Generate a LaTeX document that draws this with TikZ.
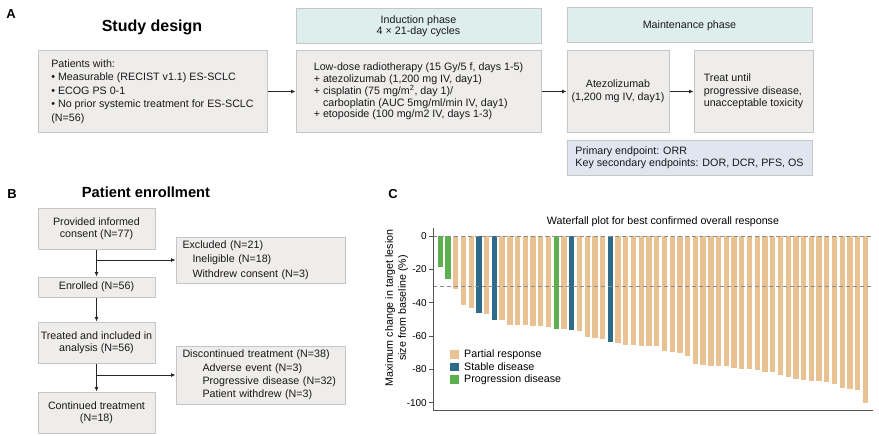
\documentclass[tikz,border=0pt]{standalone}
\usepackage{fontspec}
\setmainfont{Liberation Sans}
\usepackage{xcolor}
\usepackage{tikz}
\usetikzlibrary{arrows.meta, positioning, calc}

\definecolor{boxfill}{HTML}{EEEDEB}
\definecolor{boxline}{HTML}{C6C6C6}
\definecolor{phasefill}{HTML}{DDEEEC}
\definecolor{endfill}{HTML}{DFE6F0}
\definecolor{prcol}{HTML}{E8C293}
\definecolor{sdcol}{HTML}{2E6A8A}
\definecolor{pdcol}{HTML}{5DB04E}
\definecolor{axiscol}{HTML}{555555}

\newcommand{\txtsz}[1]{\fontsize{10.7}{#1}\selectfont}

\tikzset{
    box/.style={rectangle, draw=boxline, fill=boxfill, line width=1pt, align=left, text=black!90, font=\txtsz{13}},
    arrow/.style={line width=0.8pt, draw=black!85, -{Latex[length=4.5pt, width=4pt]}}
}

\begin{document}
\begin{tikzpicture}[x=1pt, y=-1pt,
    phasebox/.style={box, fill=phasefill, align=center, minimum width=245pt, minimum height=35pt},
    flowbox/.style={box, align=center, minimum width=117pt, inner xsep=2pt, font=\txtsz{12.5}},
    sidebox/.style={box, minimum width=169pt, text width=156pt, inner xsep=6.5pt},
    panlabel/.style={font=\fontsize{13}{15}\selectfont\bfseries},
    ticklabel/.style={anchor=east, inner sep=0pt, font=\fontsize{10}{12}\selectfont},
    refline/.style={draw=black!45, line width=0.8pt, dash pattern=on 4pt off 3pt},
    axisline/.style={draw=axiscol, line width=0.9pt}]

    \useasboundingbox (0,0) rectangle (879,436);

    % Panel A: study design
    \node (labA) [panlabel] at (11,14) {A};
    \node (titleA) [font=\fontsize{16}{18}\selectfont\bfseries] at (152,27) {Study design};

    \node (patients) [box, minimum width=229pt, minimum height=82pt, font=\txtsz{13.5}] at (152.5,91.5)
        {Patients with:\\
         • Measurable (RECIST v1.1) ES-SCLC\\
         • ECOG PS 0-1\\
         • No prior systemic treatment for ES-SCLC\\
         (N=56)};

    \node (indhdr) [phasebox, font=\txtsz{11.5}] at (418.5,26) {Induction phase\\4 × 21-day cycles};
    \node (induct) [box, minimum width=245pt, minimum height=82pt, font=\txtsz{11.8}] at (418.5,91.5)
        {Low-dose radiotherapy (15 Gy/5 f, days 1-5)\\
         + atezolizumab (1,200 mg IV, day1)\\
         + cisplatin (75 mg/m\textsuperscript{2}, day 1)/\\
         \phantom{+ }carboplatin (AUC 5mg/ml/min IV, day1)\\
         + etoposide (100 mg/m2 IV, days 1-3)};

    \node (mainthdr) [phasebox] at (689.5,25.5) {Maintenance phase};
    \node (atezo) [box, align=center, minimum width=102pt, minimum height=82pt, inner xsep=2pt] at (618,91.5)
        {Atezolizumab\\(1,200 mg IV, day1)};
    \node (treat) [box, minimum width=119pt, minimum height=82pt, font=\txtsz{12.5}] at (753.5,91.5)
        {Treat until\\progressive disease,\\unacceptable toxicity};
    \node (endpts) [box, fill=endfill, minimum width=245pt, minimum height=35pt, font=\txtsz{12}] at (689.5,157.5)
        {Primary endpoint: ORR\\Key secondary endpoints: DOR, DCR, PFS, OS};

    \draw [arrow] (patients) -- (induct);
    \draw [arrow] (induct) -- (atezo);
    \draw [arrow] (atezo) -- (treat);

    % Panel B: patient enrollment
    \node (labB) [panlabel] at (12,194) {B};
    \node (titleB) [font=\fontsize{14.7}{17}\selectfont\bfseries] at (146,192) {Patient enrollment};

    \node (consent) [flowbox, minimum height=41pt] at (96.5,228.5) {Provided informed\\consent (N=77)};
    \node (enrolled) [flowbox, minimum height=20pt] at (96.5,287) {Enrolled (N=56)};
    \node (treated) [flowbox, minimum height=41pt] at (96.5,342.5) {Treated and included in\\analysis (N=56)};
    \node (contd) [flowbox, minimum height=41pt] at (96.5,412.5) {Continued treatment\\(N=18)};

    \node (excl) [sidebox, minimum height=46pt, font=\txtsz{14.5}] at (260.5,260)
        {Excluded (N=21)\\
         \hspace*{10pt}Ineligible (N=18)\\
         \hspace*{10pt}Withdrew consent (N=3)};
    \node (disc) [sidebox, minimum height=58pt, font=\txtsz{13.3}] at (260.5,375)
        {Discontinued treatment (N=38)\\
         \hspace*{20pt}Adverse event (N=3)\\
         \hspace*{20pt}Progressive disease (N=32)\\
         \hspace*{20pt}Patient withdrew (N=3)};

    \draw [arrow] (consent) -- (enrolled);
    \coordinate (br1) at (consent.south |- excl.west);
    \draw [arrow] (br1) -- (excl.west);
    \draw [arrow] (enrolled) -- (treated);
    \draw [arrow] (treated) -- (contd);
    \coordinate (br2) at (treated.south |- disc.west);
    \draw [arrow] (br2) -- (disc.west);

    % Panel C: waterfall plot
    \node (labC) [panlabel] at (393,194) {C};
    \node (titleC) [font=\txtsz{13}] at (663,222) {Waterfall plot for best confirmed overall response};

    % bars, 0% at y=236, 1.667pt per percent
    \foreach \v/\c [count=\i from 0] in {18.6/pdcol, 25.6/pdcol, 31.6/prcol, 41.6/prcol, 43.2/prcol,
        46.4/sdcol, 47.0/prcol, 50.6/sdcol, 50.6/prcol, 53.4/prcol, 53.4/prcol, 53.6/prcol,
        53.8/prcol, 54.2/prcol, 54.4/prcol, 55.6/pdcol, 56.0/prcol, 56.6/sdcol, 56.8/prcol,
        60.8/prcol, 61.4/prcol, 61.8/prcol, 63.8/sdcol, 64.4/prcol, 65.4/prcol, 65.4/prcol,
        66.0/prcol, 66.0/prcol, 66.0/prcol, 69.2/prcol, 69.4/prcol, 70.0/prcol, 72.0/prcol,
        76.6/prcol, 77.6/prcol, 78.0/prcol, 78.0/prcol, 78.2/prcol, 79.0/prcol, 80.0/prcol,
        80.0/prcol, 80.4/prcol, 81.6/prcol, 81.6/prcol, 83.4/prcol, 84.4/prcol, 85.8/prcol,
        86.6/prcol, 87.2/prcol, 87.2/prcol, 87.6/prcol, 89.0/prcol, 91.4/prcol, 91.6/prcol,
        92.4/prcol, 100/prcol}
        \fill [\c] ({437.65+7.73*\i},236) rectangle ++(5.3,{1.667*\v});

    \draw [refline] (433,236) -- (873,236);
    \draw [refline] (433,286) -- (873,286);

    \coordinate (ytop) at (433,228);
    \coordinate (xend) at (873,410);
    \draw [axisline] (ytop) |- (xend);
    \foreach \t in {0,20,...,100} {
        \draw [axisline] (429,{236+1.667*\t}) -- ++(4,0);
        \node [ticklabel] at (427,{236+1.667*\t}) {\ifnum\t=0 0\else -\t\fi};
    }

    \node (ylab) [rotate=90, align=center, font=\txtsz{13}] at (396.5,308)
        {Maximum change in target lesion\\size from baseline (\%)};

    % Legend
    \foreach \c/\t [count=\k from 0] in {prcol/Partial response, sdcol/Stable disease, pdcol/Progression disease} {
        \fill [\c] (450,{350+12.5*\k}) rectangle ++(8.5,8.5);
        \node [anchor=west, inner sep=0pt, font=\txtsz{13}] at (464,{354.5+12.5*\k}) {\t};
    }
\end{tikzpicture}
\end{document}
